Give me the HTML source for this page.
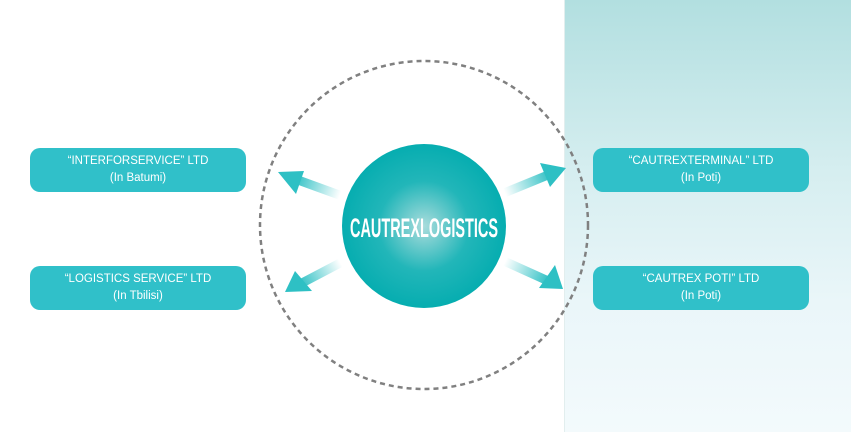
<!DOCTYPE html>
<html><head><meta charset="utf-8"><style>
body{margin:0;width:851px;height:432px;overflow:hidden;background:#fff;position:relative;font-family:"Liberation Sans",sans-serif}
.panel{position:absolute;left:564px;top:0;width:287px;height:432px;background:linear-gradient(to bottom,#b2dfe0 0%,#d6eef0 40%,#eaf6f9 70%,#f3fafc 100%);border-left:1px solid #e2eeee}
.box{position:absolute;width:216px;height:44px;background:#30c0c9;border-radius:10px;color:#fff;font-size:11.5px;text-align:center;line-height:17px;display:flex;flex-direction:column;justify-content:center}
svg{position:absolute;left:0;top:0}
</style></head><body>
<div class="panel"></div>
<svg width="851" height="432">
<defs>
<radialGradient id="g" cx="50%" cy="50%" r="50%"><stop offset="0" stop-color="#a9dcdc"/><stop offset="0.55" stop-color="#22b6b9"/><stop offset="1" stop-color="#06adb0"/></radialGradient>
<linearGradient id="a1" gradientUnits="userSpaceOnUse" x1="340" y1="195" x2="295" y2="178"><stop offset="0" stop-color="#2ec0c4" stop-opacity="0"/><stop offset="1" stop-color="#2ec0c4"/></linearGradient>
<linearGradient id="a2" gradientUnits="userSpaceOnUse" x1="340" y1="262" x2="300" y2="284"><stop offset="0" stop-color="#2ec0c4" stop-opacity="0"/><stop offset="1" stop-color="#2ec0c4"/></linearGradient>
<linearGradient id="a3" gradientUnits="userSpaceOnUse" x1="505" y1="193" x2="550" y2="174"><stop offset="0" stop-color="#2ec0c4" stop-opacity="0"/><stop offset="1" stop-color="#2ec0c4"/></linearGradient>
<linearGradient id="a4" gradientUnits="userSpaceOnUse" x1="505" y1="262" x2="548" y2="282"><stop offset="0" stop-color="#2ec0c4" stop-opacity="0"/><stop offset="1" stop-color="#2ec0c4"/></linearGradient>
</defs>
<circle cx="424" cy="225" r="164" fill="none" stroke="#808080" stroke-width="2.5" stroke-dasharray="5 4"/>
<line x1="342" y1="196" x2="298" y2="180" stroke="url(#a1)" stroke-width="9"/>
<polygon points="278,172 304,171 296,194" fill="#2ec0c4"/>
<line x1="342" y1="262" x2="302" y2="283" stroke="url(#a2)" stroke-width="9"/>
<polygon points="285,292 295,271 312,291" fill="#2ec0c4"/>
<line x1="504" y1="193" x2="548" y2="175" stroke="url(#a3)" stroke-width="9"/>
<polygon points="566,168 540,163 550,187" fill="#2ec0c4"/>
<line x1="504" y1="261" x2="546" y2="280" stroke="url(#a4)" stroke-width="9"/>
<polygon points="563,289 555,265 539,288" fill="#2ec0c4"/>
<circle cx="424" cy="226" r="82" fill="url(#g)"/>
<text x="424" y="237" text-anchor="middle" fill="#fff" font-family="Liberation Sans Narrow, Liberation Sans, sans-serif" font-weight="bold" font-size="27" textLength="148" lengthAdjust="spacingAndGlyphs">CAUTREXLOGISTICS</text>
</svg>
<div class="box" style="left:30px;top:148px">“INTERFORSERVICE” LTD<span>(In Batumi)</span></div>
<div class="box" style="left:30px;top:266px">“LOGISTICS SERVICE” LTD<span>(In Tbilisi)</span></div>
<div class="box" style="left:593px;top:148px">“CAUTREXTERMINAL” LTD<span>(In Poti)</span></div>
<div class="box" style="left:593px;top:266px">“CAUTREX POTI” LTD<span>(In Poti)</span></div>
</body></html>
